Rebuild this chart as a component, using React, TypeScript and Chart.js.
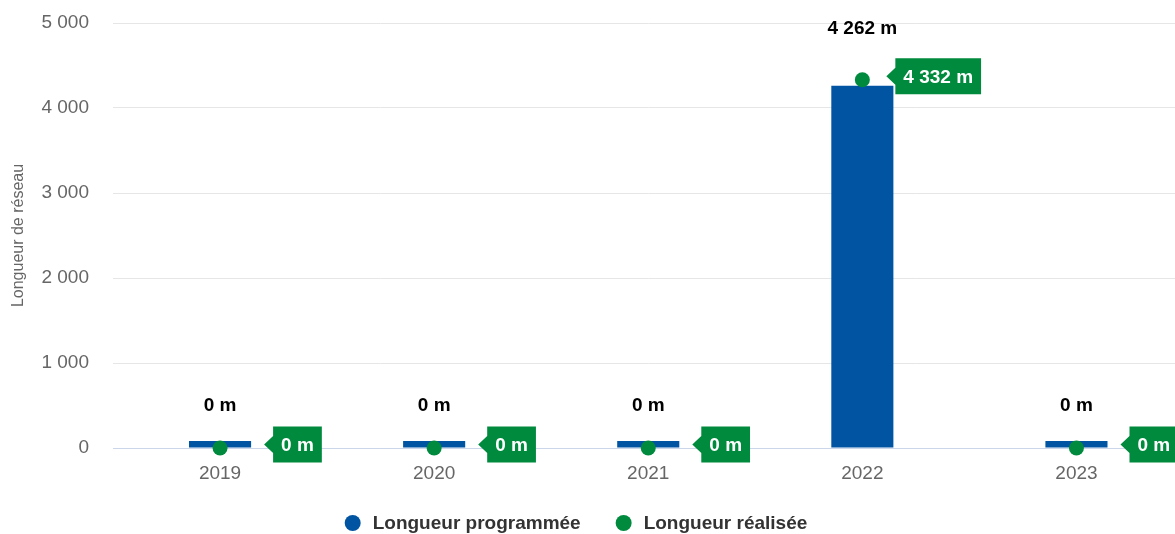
import React, { useEffect, useRef } from "react";
import { Chart, registerables } from "chart.js";

Chart.register(...registerables);

const categories = ["2019", "2020", "2021", "2022", "2023"];
const programmee = [0, 0, 0, 4262, 0];
const realisee = [0, 0, 0, 4332, 0];
const seriesNames = ["Longueur programmée", "Longueur réalisée"];
const yTicks = [0, 1000, 2000, 3000, 4000, 5000];
const axisTitle = "Longueur de réseau";

const BLUE = "#0054a2";
const GREEN = "#008a3d";
const FONT = "'Liberation Sans', Arial, Helvetica, sans-serif";

const fmt = (v: number) => String(Math.round(v)).replace(/\B(?=(\d{3})+(?!\d))/g, " ");

const labelsPlugin = {
  id: "customLabels",
  afterDatasetsDraw(chart: any) {
    const ctx = chart.ctx;
    const barMeta = chart.getDatasetMeta(0);
    const ptMeta = chart.getDatasetMeta(1);
    ctx.save();
    ctx.font = `bold 19px ${FONT}`;
    ctx.textBaseline = "middle";
    const boxH = 36;
    const pad = 8;
    const greenBoxes: any[] = [];
    ptMeta.data.forEach((pt: any, i: number) => {
      const bar = barMeta.data[i];
      const text = fmt(realisee[i]) + " m";
      const tw = ctx.measureText(text).width;
      const cy = pt.y - 3.5;
      let tip = pt.x + 24;
      const barRight = bar.x + bar.width / 2;
      const barTop = Math.min(bar.y, bar.base);
      if (tip < barRight && cy >= barTop) tip = barRight + 13;
      const left = tip + 9;
      const w = tw + pad * 2;
      ctx.fillStyle = GREEN;
      ctx.beginPath();
      ctx.moveTo(tip, cy);
      ctx.lineTo(left, cy - 8.5);
      ctx.lineTo(left, cy - boxH / 2);
      ctx.lineTo(left + w, cy - boxH / 2);
      ctx.lineTo(left + w, cy + boxH / 2);
      ctx.lineTo(left, cy + boxH / 2);
      ctx.lineTo(left, cy + 8.5);
      ctx.closePath();
      ctx.fill();
      ctx.fillStyle = "#ffffff";
      ctx.textAlign = "left";
      ctx.fillText(text, left + pad, cy + 1);
      greenBoxes.push({ x1: tip, x2: left + w, y1: cy - boxH / 2, y2: cy + boxH / 2 });
    });
    barMeta.data.forEach((bar: any, i: number) => {
      const text = fmt(programmee[i]) + " m";
      const tw = ctx.measureText(text).width;
      const top = Math.min(bar.y, bar.base);
      let cy = top - 36;
      const x1 = bar.x - tw / 2, x2 = bar.x + tw / 2;
      const g = greenBoxes[i];
      if (g && x2 > g.x1 && x1 < g.x2 && cy + 11 > g.y1 && cy - 11 < g.y2) {
        cy = g.y1 - 31;
      }
      ctx.fillStyle = "#000000";
      ctx.textAlign = "center";
      ctx.fillText(text, bar.x, cy + 1);
    });
    ctx.restore();
  },
  afterDraw(chart: any) {
    const ctx = chart.ctx;
    ctx.save();
    ctx.font = `bold 19px ${FONT}`;
    ctx.textBaseline = "middle";
    ctx.textAlign = "left";
    const colors = [BLUE, GREEN];
    const r = 8;
    const gapText = 12;
    const gapItems = 35;
    const widths = seriesNames.map((n) => ctx.measureText(n).width);
    const total = widths.reduce((a, w) => a + 2 * r + gapText + w, 0) + gapItems * (seriesNames.length - 1);
    let x = 576 - total / 2;
    const y = 523;
    seriesNames.forEach((n, i) => {
      ctx.fillStyle = colors[i];
      ctx.beginPath();
      ctx.arc(x + r, y, r, 0, Math.PI * 2);
      ctx.fill();
      ctx.fillStyle = "#333333";
      ctx.fillText(n, x + 2 * r + gapText, y + 1);
      x += 2 * r + gapText + widths[i] + gapItems;
    });
    ctx.restore();
  },
};

export default function App() {
  const ref = useRef<HTMLCanvasElement>(null);
  useEffect(() => {
    document.body.style.margin = "0";
    document.body.style.overflow = "hidden";
    const chart = new Chart(ref.current as HTMLCanvasElement, {
      type: "bar",
      data: {
        labels: categories,
        datasets: [
          {
            type: "bar",
            label: seriesNames[0],
            data: programmee,
            backgroundColor: BLUE,
            borderWidth: 0,
            minBarLength: 7,
            barPercentage: 0.29,
            categoryPercentage: 1,
            order: 1,
          },
          {
            type: "line",
            label: seriesNames[1],
            data: realisee,
            showLine: false,
            clip: false,
            pointRadius: 7.5,
            pointHoverRadius: 7.5,
            pointBackgroundColor: GREEN,
            pointBorderWidth: 0,
            pointBorderColor: GREEN,
            borderColor: GREEN,
            backgroundColor: GREEN,
            order: 0,
          } as any,
        ],
      },
      options: {
        responsive: false,
        animation: false,
        layout: { padding: { top: 23, right: 2, bottom: 46, left: 0 } },
        plugins: {
          legend: { display: false },
          tooltip: { enabled: false },
        },
        scales: {
          x: {
            offset: true,
            grid: { display: false, drawTicks: false },
            border: { display: true, color: "#ccd6eb" },
            ticks: {
              color: "#666666",
              font: { size: 19, family: FONT },
              padding: 14,
              maxRotation: 0,
            },
            afterFit: (s: any) => {
              s.height = 40;
              s.paddingLeft = 0;
              s.paddingRight = 0;
            },
          },
          y: {
            min: 0,
            max: 5000,
            afterBuildTicks: (s: any) => {
              s.ticks = yTicks.map((v) => ({ value: v }));
            },
            grid: {
              drawTicks: false,
              color: (c: any) => (c.tick && c.tick.value === 0 ? "#ccd6eb" : "#e6e6e6"),
            },
            border: { display: false },
            ticks: {
              color: "#666666",
              font: { size: 19, family: FONT },
              padding: 24,
              callback: (v: any) => fmt(Number(v)),
            },
            title: {
              display: true,
              text: axisTitle,
              color: "#666666",
              font: { size: 16, family: FONT },
              padding: { top: 9, bottom: 0 },
            },
            afterFit: (s: any) => {
              s.width = 113;
              s.paddingTop = 0;
              s.paddingBottom = 0;
            },
          },
        },
      },
      plugins: [labelsPlugin],
    });
    return () => chart.destroy();
  }, []);
  return (
    <div style={{ position: "fixed", left: 0, top: 0, width: 1175, height: 534, overflow: "hidden" }}>
      <canvas ref={ref} width={1191} height={534} style={{ width: 1191, height: 534, display: "block" }} />
    </div>
  );
}
